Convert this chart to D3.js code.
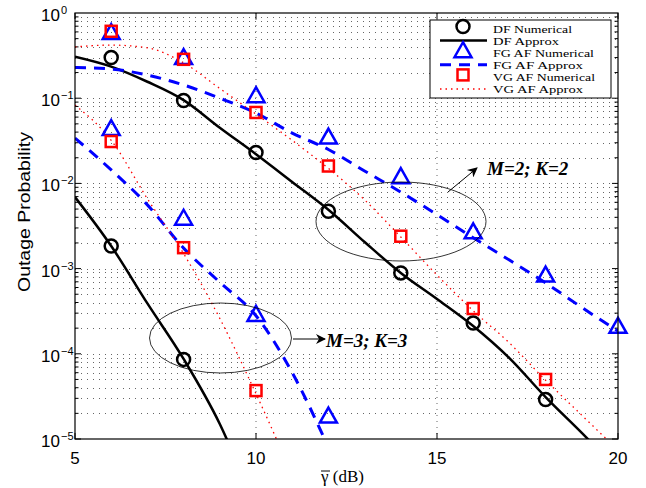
<!DOCTYPE html>
<html lang="en">
<head>
<meta charset="utf-8">
<title>Outage Probability</title>
<script src="https://cdn.jsdelivr.net/npm/d3@7"></script>
<style>
  body { margin: 0; background: #fff; }
  svg { display: block; }
</style>
</head>
<body>
<svg width="646" height="488"></svg>
<script>
// ---- data ----
var snrApx = [5, 6, 7, 8, 9, 10, 11, 12, 13, 14, 15, 16, 17, 18, 19, 20];
var dfApx2 = [0.307, 0.235, 0.156, 0.095, 0.045, 0.022, 0.0104, 0.0049, 0.00205, 8.9e-4, 4.4e-4, 2.12e-4, 8.9e-5, 3.1e-5, 1.18e-5, 4.3e-6];
var fgApx2 = [0.23, 0.22, 0.187, 0.143, 0.10, 0.067, 0.039, 0.025, 0.014, 0.0079, 0.0043, 0.0023, 0.00126, 6.8e-4, 3.5e-4, 1.85e-4];
var vgApx2 = [0.40, 0.42, 0.39, 0.26, 0.13, 0.065, 0.032, 0.015, 0.0064, 0.00235, 8.4e-4, 3.2e-4, 1.34e-4, 4.9e-5, 1.9e-5, 7.4e-6];
var dfApx3 = [6.9e-3, 1.84e-3, 3.9e-4, 8.7e-5, 1.5e-5, 1.5e-6];
var fgApx3 = [0.034, 0.0144, 5.6e-3, 1.74e-3, 6.9e-4, 2.8e-4, 6e-5, 8e-6];
var vgApx3 = [0.083, 0.032, 6.6e-3, 1.5e-3, 2.6e-4, 3.4e-5, 3.8e-6];

var snrNum = [6, 8, 10, 12, 14, 16, 18, 20];
var dfNum2 = [0.30, 0.094, 0.023, 0.0047, 8.9e-4, 2.3e-4, 2.9e-5];
var fgNum2 = [0.59, 0.30, 0.107, 0.035, 0.012, 0.0027, 8.4e-4, 2.1e-4];
var vgNum2 = [0.61, 0.286, 0.068, 0.016, 0.0024, 3.4e-4, 5.0e-5];
var dfNum3 = [1.84e-3, 8.6e-5];
var fgNum3 = [0.044, 3.9e-3, 2.9e-4, 1.86e-5];
var vgNum3 = [0.031, 1.76e-3, 3.7e-5];

var xTicks = [5, 10, 15, 20];
var yExp = [0, -1, -2, -3, -4, -5];
var legendNames = ["DF Numerical", "DF Approx", "FG AF Numerical", "FG AF Approx", "VG AF Numerical", "VG AF Approx"];

// ---- layout ----
var L = 75, R = 618, T = 13, B = 439;
var x = d3.scaleLinear().domain([5, 20]).range([L, R]);
var y = d3.scaleLog().domain([1e-5, 1]).range([B, T]);
var svg = d3.select("svg");
var serif = "'Liberation Serif', 'Times New Roman', serif";
var font = "'Liberation Sans', Arial, sans-serif";

svg.append("defs").append("clipPath").attr("id", "clip")
  .append("rect").attr("x", L).attr("y", T).attr("width", R - L).attr("height", B - T);
svg.select("defs").append("marker").attr("id", "arr")
  .attr("viewBox", "0 0 10 10").attr("refX", 9).attr("refY", 5)
  .attr("markerWidth", 14).attr("markerHeight", 10).attr("markerUnits", "userSpaceOnUse")
  .attr("orient", "auto")
  .append("path").attr("d", "M0,0 L10,5 L0,10 L3,5 Z").attr("fill", "black");

// grid
var grid = svg.append("g");
var minor = [];
for (var e = -5; e < 0; e++) for (var k = 1; k < 10; k++) minor.push(k * Math.pow(10, e));
grid.selectAll("line.h").data(minor.filter(function (v) { return v > 1e-5; })).enter().append("line")
  .attr("x1", L).attr("x2", R).attr("y1", function (d) { return Math.round(y(d)) + 0.5; }).attr("y2", function (d) { return Math.round(y(d)) + 0.5; })
  .attr("stroke", "#555").attr("stroke-width", 0.9).attr("stroke-dasharray", "1,5");
grid.selectAll("line.v").data([10, 15]).enter().append("line")
  .attr("x1", function (d) { return x(d); }).attr("x2", function (d) { return x(d); }).attr("y1", T).attr("y2", B)
  .attr("stroke", "#555").attr("stroke-width", 0.9).attr("stroke-dasharray", "1,5");

// ticks (inside, both sides)
var tk = svg.append("g").attr("stroke", "black").attr("stroke-width", 1);
minor.forEach(function (v) {
  var major = Math.abs(Math.log10(v) - Math.round(Math.log10(v))) < 1e-9;
  var len = major ? 6 : 3.5;
  tk.append("line").attr("x1", L).attr("x2", L + len).attr("y1", y(v)).attr("y2", y(v));
  tk.append("line").attr("x1", R).attr("x2", R - len).attr("y1", y(v)).attr("y2", y(v));
});
xTicks.forEach(function (v) {
  tk.append("line").attr("x1", x(v)).attr("x2", x(v)).attr("y1", B).attr("y2", B - 6);
  tk.append("line").attr("x1", x(v)).attr("x2", x(v)).attr("y1", T).attr("y2", T + 6);
});

// tick labels
svg.selectAll("text.xt").data(xTicks).enter().append("text")
  .attr("x", function (d) { return x(d); }).attr("y", 464)
  .attr("text-anchor", "middle").attr("font-family", font).attr("font-size", 17)
  .text(function (d) { return d; });
yExp.forEach(function (p) {
  var yy = y(Math.pow(10, p));
  svg.append("text").attr("x", 60).attr("y", yy + 8).attr("text-anchor", "end")
    .attr("font-family", font).attr("font-size", 17).text("10");
  svg.append("text").attr("x", 61).attr("y", yy + 1).attr("text-anchor", "start")
    .attr("font-family", font).attr("font-size", 11).text(p === 0 ? "0" : "\u2212" + (-p));
});

// axis titles
svg.append("text").attr("transform", "translate(30,212) rotate(-90)")
  .attr("text-anchor", "middle").attr("font-family", font).attr("font-size", 17)
  .attr("textLength", 160).attr("lengthAdjust", "spacingAndGlyphs")
  .text("Outage Probability");
var xl = svg.append("text").attr("x", 321).attr("y", 482)
  .attr("font-family", serif).attr("font-size", 17);
xl.append("tspan").text("\u03b3");
xl.append("tspan").text(" (dB)");
svg.append("line").attr("x1", 321).attr("x2", 330).attr("y1", 471).attr("y2", 471)
  .attr("stroke", "black").attr("stroke-width", 1);

// curves
var plot = svg.append("g").attr("clip-path", "url(#clip)");
var line = d3.line().curve(d3.curveMonotoneX)
  .x(function (d) { return x(d[0]); }).y(function (d) { return y(d[1]); });
var styles = {
  df: { stroke: "black", width: 2.5, dash: null },
  fg: { stroke: "#0000ff", width: 3, dash: "11,8" },
  vg: { stroke: "#ff0000", width: 1.3, dash: "1.5,4" }
};
function curve(vals, st) {
  var pts = vals.map(function (v, i) { return [snrApx[i], v]; });
  plot.append("path").datum(pts).attr("d", line).attr("fill", "none")
    .attr("stroke", st.stroke).attr("stroke-width", st.width)
    .attr("stroke-dasharray", st.dash);
}
curve(dfApx2, styles.df); curve(fgApx2, styles.fg); curve(vgApx2, styles.vg);
curve(dfApx3, styles.df); curve(fgApx3, styles.fg); curve(vgApx3, styles.vg);

// markers
function drawMarker(g, kind, cx, cy) {
  if (kind === "df") {
    g.append("circle").attr("cx", cx).attr("cy", cy).attr("r", 6.5)
      .attr("fill", "none").attr("stroke", "black").attr("stroke-width", 2.5);
  } else if (kind === "fg") {
    g.append("path").attr("d", "M" + cx + "," + (cy - 8.5) + " L" + (cx + 8.5) + "," + (cy + 6.5) + " L" + (cx - 8.5) + "," + (cy + 6.5) + " Z")
      .attr("fill", "none").attr("stroke", "#0000ff").attr("stroke-width", 2.5);
  } else {
    g.append("rect").attr("x", cx - 5.5).attr("y", cy - 5.5).attr("width", 11).attr("height", 11)
      .attr("fill", "none").attr("stroke", "#ff0000").attr("stroke-width", 2.5);
  }
}
function points(vals, kind) {
  vals.forEach(function (v, i) { drawMarker(svg, kind, x(snrNum[i]), y(v)); });
}
points(dfNum2, "df"); points(dfNum3, "df");
points(fgNum2, "fg"); points(fgNum3, "fg");
points(vgNum2, "vg"); points(vgNum3, "vg");

// annotations
var ann = svg.append("g");
ann.append("ellipse").attr("cx", 401).attr("cy", 221.5).attr("rx", 85).attr("ry", 39.5)
  .attr("fill", "none").attr("stroke", "black").attr("stroke-width", 0.8);
ann.append("ellipse").attr("cx", 220.5).attr("cy", 338).attr("rx", 71).attr("ry", 35)
  .attr("fill", "none").attr("stroke", "black").attr("stroke-width", 0.8);
ann.append("line").attr("x1", 448).attr("y1", 192).attr("x2", 477).attr("y2", 168)
  .attr("stroke", "black").attr("stroke-width", 1).attr("marker-end", "url(#arr)");
ann.append("line").attr("x1", 293).attr("y1", 339).attr("x2", 325).attr("y2", 339)
  .attr("stroke", "black").attr("stroke-width", 1).attr("marker-end", "url(#arr)");
ann.append("text").attr("x", 487).attr("y", 175)
  .attr("font-family", serif).attr("font-size", 19)
  .attr("font-weight", "bold").attr("font-style", "italic").text("M=2; K=2");
ann.append("text").attr("x", 326).attr("y", 347)
  .attr("font-family", serif).attr("font-size", 19)
  .attr("font-weight", "bold").attr("font-style", "italic").text("M=3; K=3");

// frame
svg.append("rect").attr("x", L).attr("y", T).attr("width", R - L).attr("height", B - T)
  .attr("fill", "none").attr("stroke", "black").attr("stroke-width", 1.2);

// legend
var lg = svg.append("g");
lg.append("rect").attr("x", 430).attr("y", 20).attr("width", 181).attr("height", 78)
  .attr("fill", "white").attr("stroke", "black").attr("stroke-width", 1);
var kinds = ["df", "df", "fg", "fg", "vg", "vg"];
var legendW = [79, 66, 101, 90, 102, 90];
legendNames.forEach(function (name, i) {
  var base = 32.5 + i * 12.1;
  lg.append("text").attr("x", 493).attr("y", base)
    .attr("font-family", serif).attr("font-size", 11.3)
    .attr("textLength", legendW[i]).attr("lengthAdjust", "spacingAndGlyphs")
    .text(name);
  if (i % 2 === 0) {
    drawMarker(lg, kinds[i], 463, base - 6);
  } else {
    var st = styles[kinds[i]];
    lg.append("line").attr("x1", 440).attr("x2", 487).attr("y1", base - 4).attr("y2", base - 4)
      .attr("stroke", st.stroke).attr("stroke-width", st.width).attr("stroke-dasharray", st.dash);
  }
});
</script>
</body>
</html>
